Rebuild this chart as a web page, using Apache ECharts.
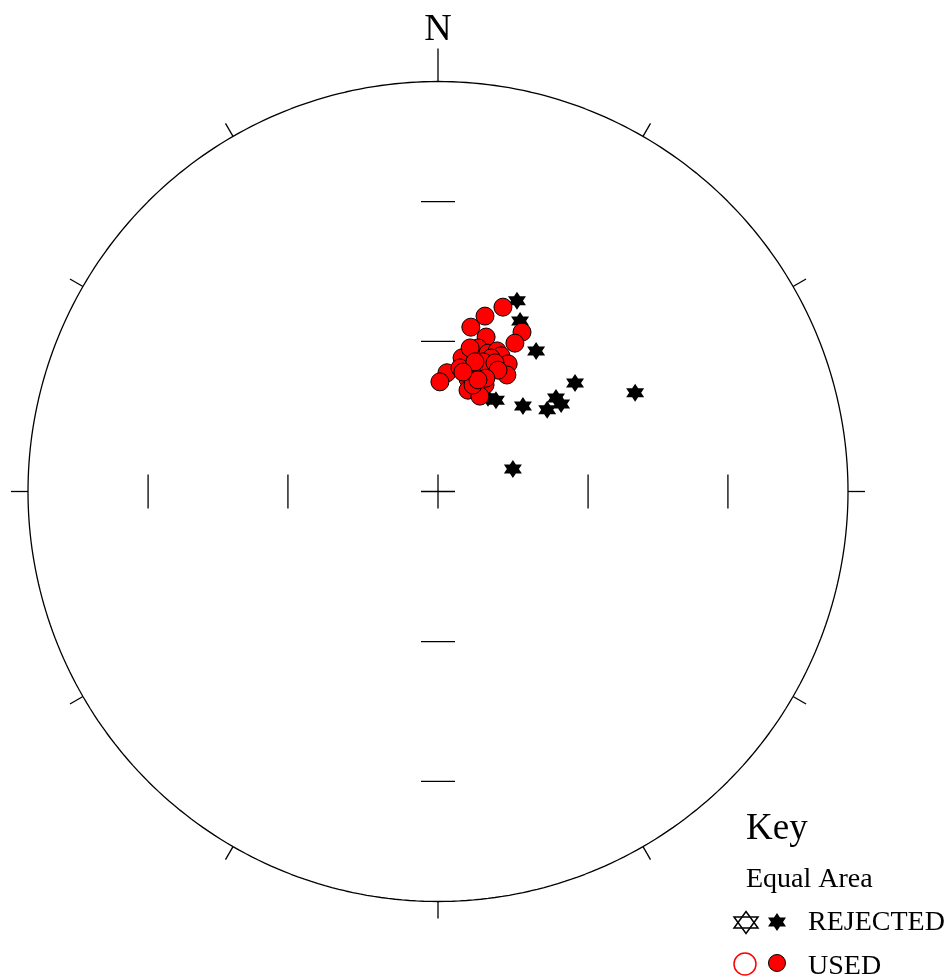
<!DOCTYPE html>
<html><head><meta charset="utf-8">
<script src="https://cdn.jsdelivr.net/npm/echarts@6/dist/echarts.min.js"></script>
<style>html,body{margin:0;padding:0;background:#fff}#c{width:950px;height:978px}</style>
</head><body><div id="c"></div>
<script>
// Directions (declination, inclination in degrees)
const usedDec = [19.4, 15.0, 11.3, 17.3, 27.8, 27.4, 11.8, 10.2, 15.0, 15.6, 19.9, 22.8, 24.9, 21.7, 28.8, 30.6, 17.4, 23.0, 4.3, 1.0, 14.9, 23.8, 16.5, 23.7, 18.2, 19.2, 12.6, 23.9, 10.1, 26.3, 15.9, 22.9, 19.7, 11.8];
const usedInc = [50.6, 53.5, 56.4, 57.6, 53.8, 56.5, 62.6, 62.9, 61.4, 60.2, 60.6, 59.5, 60.1, 61.3, 60.9, 63.0, 64.6, 63.5, 66.3, 68.2, 66.8, 66.8, 69.0, 69.3, 67.7, 62.6, 60.6, 61.9, 65.0, 63.0, 63.1, 65.5, 66.4, 65.7];
const rejectedDec = [22.5, 25.7, 34.9, 51.6, 63.4, 51.6, 54.6, 53.2, 44.8, 32.4, 28.1, 73.3];
const rejectedInc = [48.3, 51.9, 55.6, 54.9, 45.3, 59.9, 59.8, 62.8, 66.0, 68.5, 68.9, 74.5];
// Net furniture
const gridInc = [60, 30];               // inner tick marks on the N-S / E-W axes
const outerTickAz = [0, 30, 60, 90, 120, 150, 180, 210, 240, 270, 300, 330];
const cardinal = 'N';
const keyTitle = 'Key';
const projName = 'Equal Area';
const rejectedLabel = 'REJECTED';
const usedLabel = 'USED';

const D = Math.PI / 180;
function eqArea(dec, inc) {
  const r = Math.SQRT2 * Math.sin((90 - inc) / 2 * D);
  return [r * Math.sin(dec * D), r * Math.cos(dec * D)];
}
function rOf(inc) { return Math.SQRT2 * Math.sin((90 - inc) / 2 * D); }

const PXR = 410; // net radius in px
const usedPts = usedDec.map((d, i) => eqArea(d, usedInc[i]));
const rejPts = rejectedDec.map((d, i) => eqArea(d, rejectedInc[i]));

const circle = [];
for (let a = 0; a <= 360; a += 1) circle.push([Math.sin(a * D), Math.cos(a * D)]);

const h = 17 / PXR;
const segs = [[-h, 0, h, 0], [0, -h, 0, h]];
gridInc.forEach(inc => {
  const r = rOf(inc);
  segs.push([r, -h, r, h], [-r, -h, -r, h], [-h, r, h, r], [-h, -r, h, -r]);
});
outerTickAz.forEach(az => {
  const len = az === 0 ? 33 : (az % 90 === 0 ? 17 : 15);
  const s = Math.sin(az * D), c = Math.cos(az * D), k = 1 + len / PXR;
  segs.push([s, c, s * k, c * k]);
});

const STAR = 'path://M0,-10 L2.887,-5 L8.66,-5 L5.774,0 L8.66,5 L2.887,5 L0,10 L-2.887,5 L-8.66,5 L-5.774,0 L-8.66,-5 L-2.887,-5 Z';
const FONT = '"Liberation Serif", "Times New Roman", serif';
// legend filled star as polygon (centre 777,922, 17x18)
const starPoly = [[0,-10],[2.887,-5],[8.66,-5],[5.774,0],[8.66,5],[2.887,5],[0,10],[-2.887,5],[-8.66,5],[-5.774,0],[-8.66,-5],[-2.887,-5]]
  .map(p => [777 + p[0] * 9 / 8.66, 922 + p[1] * 0.9]);

const chart = echarts.init(document.getElementById('c'), null, {renderer: 'canvas'});
chart.setOption({
  animation: false,
  backgroundColor: '#fff',
  grid: {left: 438 - PXR, top: 491.5 - PXR, width: 2 * PXR, height: 2 * PXR, containLabel: false},
  xAxis: {type: 'value', min: -1, max: 1, show: false},
  yAxis: {type: 'value', min: -1, max: 1, show: false},
  series: [
    {type: 'line', data: circle, showSymbol: false, symbol: 'none', clip: false, silent: true,
     lineStyle: {color: '#000', width: 1.3}, z: 1},
    {type: 'custom', data: segs, clip: false, silent: true, encode: {x: [0, 2], y: [1, 3]}, z: 1,
     renderItem: (params, api) => {
       const p1 = api.coord([api.value(0), api.value(1)]);
       const p2 = api.coord([api.value(2), api.value(3)]);
       return {type: 'line', shape: {x1: p1[0], y1: p1[1], x2: p2[0], y2: p2[1]},
               style: {stroke: '#000', lineWidth: 1.3}};
     }},
    {type: 'scatter', name: rejectedLabel, data: rejPts, symbol: STAR, symbolSize: [18, 18],
     itemStyle: {color: '#000', opacity: 1}, z: 3},
    {type: 'scatter', name: usedLabel, data: usedPts, symbol: 'circle', symbolSize: 18,
     itemStyle: {color: '#ff0000', borderColor: '#000', borderWidth: 1, opacity: 1}, z: 4}
  ],
  graphic: [
    {type: 'text', x: 438, y: 30, style: {text: cardinal, font: '38px ' + FONT, fill: '#000', align: 'center', verticalAlign: 'middle'}},
    {type: 'text', x: 746, y: 829, style: {text: keyTitle, font: '37px ' + FONT, fill: '#000', align: 'left', verticalAlign: 'middle'}},
    {type: 'text', x: 746, y: 880, style: {text: projName, font: '28px ' + FONT, fill: '#000', align: 'left', verticalAlign: 'middle'}},
    {type: 'polygon', shape: {points: [[746, 911.5], [758, 928], [734, 928]]}, style: {fill: 'none', stroke: '#000', lineWidth: 1.5}},
    {type: 'polygon', shape: {points: [[746, 933.5], [758, 917], [734, 917]]}, style: {fill: 'none', stroke: '#000', lineWidth: 1.5}},
    {type: 'polygon', shape: {points: starPoly}, style: {fill: '#000'}},
    {type: 'text', x: 808, y: 923, style: {text: rejectedLabel, font: '28px ' + FONT, fill: '#000', align: 'left', verticalAlign: 'middle'}},
    {type: 'circle', shape: {cx: 745, cy: 964, r: 11}, style: {fill: '#fff', stroke: '#ff0000', lineWidth: 1.5}},
    {type: 'circle', shape: {cx: 777, cy: 963, r: 8.5}, style: {fill: '#ff0000', stroke: '#000', lineWidth: 1}},
    {type: 'text', x: 808, y: 967, style: {text: usedLabel, font: '28px ' + FONT, fill: '#000', align: 'left', verticalAlign: 'middle'}}
  ]
});
</script>
</body></html>
